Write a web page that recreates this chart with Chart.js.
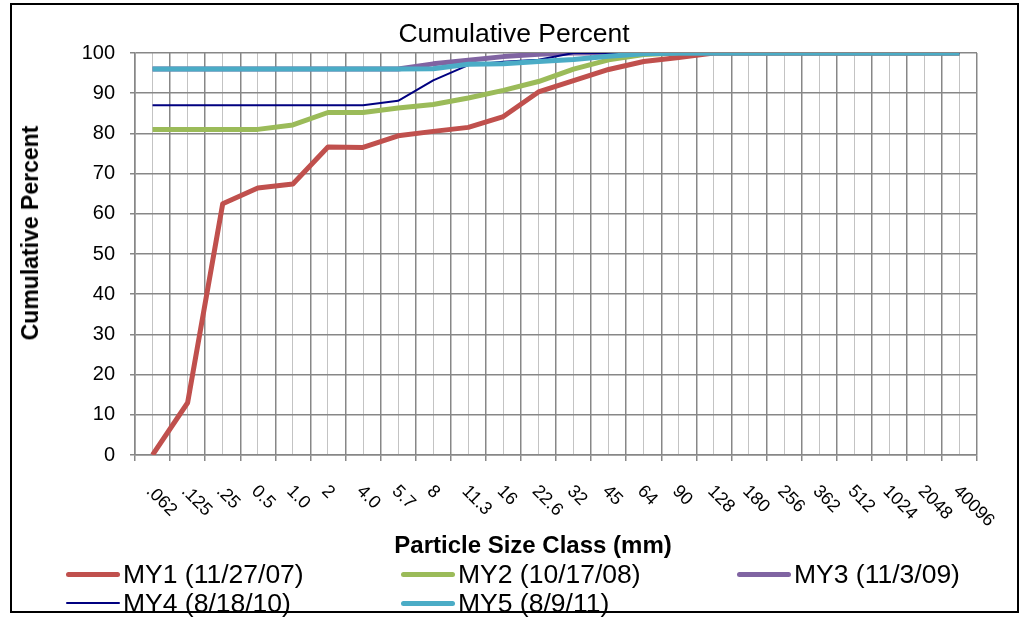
<!DOCTYPE html>
<html>
<head>
<meta charset="utf-8">
<script src="https://cdn.jsdelivr.net/npm/chart.js@4.4.1/dist/chart.umd.min.js"></script>
<style>
  html, body { margin: 0; padding: 0; background: #fff; }
  #wrap { position: relative; width: 1026px; height: 618px; overflow: hidden;
          font-family: "Liberation Sans", Arial, sans-serif; color: #000; }
  #frame { position: absolute; left: 10px; top: 3px; width: 1009px; height: 610px;
           border: 2px solid #000; box-sizing: border-box; pointer-events: none; }
  #plot { position: absolute; left: 0; top: 0; }
  #title { position: absolute; left: 0; width: 1028px; top: 18px; text-align: center;
           font-size: 26.5px; line-height: 30px; white-space: nowrap; }
  #xtitle { position: absolute; left: 533px; top: 531px; transform: translateX(-50%);
            font-size: 24px; font-weight: bold; line-height: 28px; white-space: nowrap; }
  #ytitle { position: absolute; left: 30px; top: 233px; transform: translate(-50%, -50%) rotate(-90deg);
            font-size: 23px; font-weight: bold; line-height: 26px; white-space: nowrap; }
  .lg { position: absolute; height: 28px; display: flex; align-items: center; white-space: nowrap;
        font-size: 26.5px; line-height: 28px; }
  .lg .sw { width: 54px; margin-right: 3px; border-radius: 3px; }
</style>
</head>
<body>
<div id="wrap">
  <canvas id="plot" width="1026" height="618"></canvas>
  <div id="title">Cumulative Percent</div>
  <div id="ytitle">Cumulative Percent</div>
  <div id="xtitle">Particle Size Class (mm)</div>
  <div id="legend"></div>
  <div id="frame"></div>
</div>
<script>
// Particle size classes (mm)
const categories = ['.062', '.125', '.25', '0.5', '1.0', '2', '4.0', '5.7', '8', '11.3', '16', '22.6',
                    '32', '45', '64', '90', '128', '180', '256', '362', '512', '1024', '2048', '40096'];

// Cumulative percent finer, one array per monitoring year
const my1 = [0, 13, 62.5, 66.4, 67.4, 76.6, 76.5, 79.4, 80.5, 81.5, 84.2, 90.3, 93.1, 95.9, 97.9, 98.9,
             100, 100, 100, 100, 100, 100, 100, 100];
const my2 = [81, 81, 81, 81, 82.1, 85.2, 85.2, 86.3, 87.2, 88.8, 90.7, 92.9, 96, 98.3, 99.6, 100,
             100, 100, 100, 100, 100, 100, 100, 100];
const my3 = [96, 96, 96, 96, 96, 96, 96, 96, 97.3, 98.2, 99.1, 99.7, 100, 100, 100, 100,
             100, 100, 100, 100, 100, 100, 100, 100];
const my4 = [87, 87, 87, 87, 87, 87, 87, 88.1, 93.2, 97, 97.8, 98.3, 100, 100, 100, 100,
             100, 100, 100, 100, 100, 100, 100, 100];
const my5 = [96, 96, 96, 96, 96, 96, 96, 96, 96.1, 97.2, 97.3, 97.9, 98.4, 99.2, 99.8, 100,
             100, 100, 100, 100, 100, 100, 100, 100];

const seriesNames = ['MY1 (11/27/07)', 'MY2 (10/17/08)', 'MY3 (11/3/09)', 'MY4 (8/18/10)', 'MY5 (8/9/11)'];
const seriesValues = [my1, my2, my3, my4, my5];

// y-axis range and step
const yMin = 0, yMax = 100, yStep = 10;

// line styling
const seriesColors = ['#C0504D', '#9BBB59', '#8064A2', '#000080', '#4BACC6'];
const seriesWidths = [5, 5, 5, 2, 5];

const darkGrid = '#878787';
const lightGrid = '#c3c3c3';
const font = '"Liberation Sans", Arial, sans-serif';

const datasets = seriesValues.map((vals, i) => ({
  label: seriesNames[i],
  data: vals,
  borderColor: seriesColors[i],
  backgroundColor: seriesColors[i],
  borderWidth: seriesWidths[i],
  pointRadius: 0,
  pointHoverRadius: 0,
  tension: 0,
  fill: false,
  borderJoinStyle: 'round',
  borderCapStyle: 'butt',
  order: seriesValues.length - i   // later years drawn on top
}));

// Size-class labels run diagonally downward from each class position
const slantedLabels = {
  id: 'slantedLabels',
  afterDraw(chart) {
    const { ctx, chartArea } = chart;
    const xs = chart.scales.x;
    ctx.save();
    ctx.font = '18px ' + font;
    ctx.fillStyle = '#000';
    ctx.textAlign = 'left';
    ctx.textBaseline = 'alphabetic';
    categories.forEach((lab, i) => {
      const px = xs.getPixelForValue(i);
      ctx.save();
      ctx.translate(px - 7, chartArea.bottom + 37);
      ctx.rotate(Math.PI / 4);
      ctx.fillText(lab, 0, 0);
      ctx.restore();
    });
    ctx.restore();
  }
};

new Chart(document.getElementById('plot'), {
  type: 'line',
  data: { labels: categories, datasets },
  plugins: [slantedLabels],
  options: {
    responsive: false,
    animation: false,
    devicePixelRatio: 1,
    layout: { padding: { left: 0, right: 49, top: 53, bottom: 157 } },
    plugins: {
      legend: { display: false },
      title: { display: false },
      tooltip: { enabled: false }
    },
    scales: {
      x: {
        type: 'category',
        offset: true,
        grid: { offset: true, color: darkGrid, lineWidth: 1.5, drawTicks: true, tickLength: 6, tickColor: darkGrid },
        border: { color: darkGrid, width: 1.5 },
        ticks: { display: false }
      },
      x2: {
        type: 'category',
        labels: categories,
        position: 'bottom',
        offset: true,
        grid: { offset: false, color: lightGrid, lineWidth: 1, drawTicks: false },
        border: { display: false },
        ticks: { display: false }
      },
      y: {
        min: yMin,
        max: yMax,
        afterFit(scale) { scale.width = 135; },
        grid: { color: darkGrid, lineWidth: 1.5, drawTicks: true, tickLength: 5, tickColor: darkGrid },
        border: { color: darkGrid, width: 1.5 },
        ticks: { stepSize: yStep, color: '#000', padding: 15, font: { family: font, size: 20 } }
      }
    }
  }
});

// Legend: three columns, rows filled left to right
const legendCols = [66, 401, 737];
const legendRows = [574, 603];
const legendBox = document.getElementById('legend');
seriesNames.forEach((name, i) => {
  const item = document.createElement('div');
  item.className = 'lg';
  item.style.left = legendCols[i % 3] + 'px';
  item.style.top = (legendRows[Math.floor(i / 3)] - 14) + 'px';
  const sw = document.createElement('span');
  sw.className = 'sw';
  sw.style.height = seriesWidths[i] + 'px';
  sw.style.background = seriesColors[i];
  const tx = document.createElement('span');
  tx.textContent = name;
  item.appendChild(sw);
  item.appendChild(tx);
  legendBox.appendChild(item);
});
</script>
</body>
</html>
